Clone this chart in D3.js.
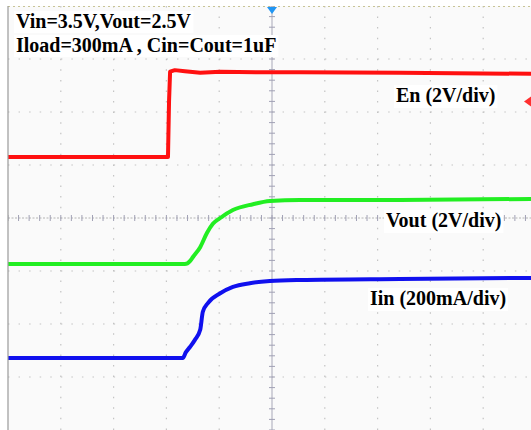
<!DOCTYPE html>
<html>
<head>
<meta charset="utf-8">
<script src="https://cdn.jsdelivr.net/npm/d3@7"></script>
<style>
  body { margin: 0; background: #fff; }
  svg { display: block; }
</style>
</head>
<body>
<div id="chart"></div>
<script>
// Scope trace readings, in screen divisions (x: 0..10, y: -4..4 around centre)
const enTime = [0, 3.03, 3.05, 3.07, 3.16, 3.35, 3.64, 4.02, 4.77, 5.53, 7.42, 10];
const enLevel = [1.15, 1.15, 2.2, 2.76, 2.79, 2.77, 2.74, 2.76, 2.75, 2.75, 2.74, 2.72];

const voutTime = [0, 3.35, 3.45, 3.5, 3.64, 3.77, 3.88, 4.02, 4.26, 4.64, 4.96, 5.53, 7.42, 10];
const voutLevel = [-0.87, -0.87, -0.81, -0.74, -0.55, -0.28, -0.11, 0, 0.15, 0.26, 0.32, 0.34, 0.34, 0.36];

const iinTime = [0, 3.31, 3.37, 3.45, 3.54, 3.64, 3.69, 3.79, 4.02, 4.26, 4.58, 4.96, 5.53, 7.42, 10];
const iinLevel = [-2.64, -2.64, -2.53, -2.43, -2.3, -2.11, -1.77, -1.6, -1.42, -1.3, -1.23, -1.19, -1.17, -1.15, -1.13];

const headerLines = ['Vin=3.5V,Vout=2.5V', 'Iload=300mA , Cin=Cout=1uF'];
const channelLabels = ['En (2V/div)', 'Vout (2V/div)', 'Iin (200mA/div)'];

const width = 531, height = 430;
const svg = d3.select('#chart').append('svg')
  .attr('width', width)
  .attr('height', height);

// Screen: 10 x 8 divisions
const x = d3.scaleLinear().domain([0, 10]).range([8, 536]);
const y = d3.scaleLinear().domain([-4, 4]).range([430, 6]);

svg.append('defs').append('clipPath').attr('id', 'screen')
  .append('rect')
  .attr('x', x(0)).attr('y', y(4))
  .attr('width', width - x(0)).attr('height', y(-4) - y(4));

const screen = svg.append('g').attr('clip-path', 'url(#screen)');

screen.append('rect')
  .attr('x', x(0)).attr('y', y(4))
  .attr('width', x(10) - x(0)).attr('height', y(-4) - y(4))
  .attr('fill', '#fafafa');

// Dotted graticule
const minor = (x(1) - x(0)) / 5;
const grid = screen.append('g');
grid.selectAll('line.v')
  .data(d3.range(1, 10).filter((d) => d !== 5))
  .enter().append('line')
  .attr('x1', (d) => x(d)).attr('x2', (d) => x(d))
  .attr('y1', y(4)).attr('y2', y(-4))
  .attr('stroke', '#c4c4c4')
  .attr('stroke-width', 1.2)
  .attr('stroke-dasharray', `1.5,${minor - 1.5}`);

grid.selectAll('line.h')
  .data(d3.range(-3, 4).filter((d) => d !== 0))
  .enter().append('line')
  .attr('x1', x(0)).attr('x2', x(10))
  .attr('y1', (d) => y(d)).attr('y2', (d) => y(d))
  .attr('stroke', '#c4c4c4')
  .attr('stroke-width', 1.2)
  .attr('stroke-dasharray', `1.5,${minor - 1.5}`);

// top edge
grid.append('line')
  .attr('x1', x(0)).attr('x2', x(10))
  .attr('y1', y(4) + 0.5).attr('y2', y(4) + 0.5)
  .attr('stroke', '#c8c496')
  .attr('stroke-width', 1.2)
  .attr('stroke-dasharray', '2,3');

// centre axes with minor ticks
grid.append('line')
  .attr('x1', x(5)).attr('x2', x(5))
  .attr('y1', y(4)).attr('y2', y(-4))
  .attr('stroke', '#a8a8b8').attr('stroke-width', 1);
grid.append('line')
  .attr('x1', x(0)).attr('x2', x(10))
  .attr('y1', y(0)).attr('y2', y(0))
  .attr('stroke', '#b4b4b4').attr('stroke-width', 1)
  .attr('stroke-dasharray', '2,1.5');

const yTicks = d3.range(-4, 4.01, 0.2);
grid.selectAll('line.yt')
  .data(yTicks)
  .enter().append('line')
  .attr('x1', x(5) - 3).attr('x2', x(5) + 3)
  .attr('y1', (d) => y(d)).attr('y2', (d) => y(d))
  .attr('stroke', '#a0a0b4').attr('stroke-width', 1);

const xTicks = d3.range(0, 10.01, 0.2);
grid.selectAll('line.xt')
  .data(xTicks)
  .enter().append('line')
  .attr('x1', (d) => x(d)).attr('x2', (d) => x(d))
  .attr('y1', y(0) - 3).attr('y2', y(0) + 3)
  .attr('stroke', '#a0a0b4').attr('stroke-width', 1);

// left frame
svg.append('line')
  .attr('x1', x(0)).attr('x2', x(0))
  .attr('y1', y(4)).attr('y2', y(-4))
  .attr('stroke', '#9a9a9a').attr('stroke-width', 1.2);

// Traces
const line = d3.line()
  .x((d) => x(d[0]))
  .y((d) => y(d[1]));

const traces = [
  { t: enTime, v: enLevel, color: '#ff1010', curve: d3.curveLinear },
  { t: voutTime, v: voutLevel, color: '#22ee22', curve: d3.curveMonotoneX },
  { t: iinTime, v: iinLevel, color: '#1010ee', curve: d3.curveMonotoneX },
];

traces.forEach((tr) => {
  screen.append('path')
    .datum(tr.t.map((t, i) => [t, tr.v[i]]))
    .attr('fill', 'none')
    .attr('stroke', tr.color)
    .attr('stroke-width', 4)
    .attr('stroke-linejoin', 'round')
    .attr('d', line.curve(tr.curve));
});

// Markers: trigger position and En channel level
svg.append('path')
  .attr('d', `M${x(5) - 5},${y(4) + 1}L${x(5) + 5},${y(4) + 1}L${x(5)},${y(4) + 8}Z`)
  .attr('fill', '#2196f3');
svg.append('path')
  .attr('d', `M${width},${y(2.2) - 5}L${width - 7},${y(2.2)}L${width},${y(2.2) + 5}Z`)
  .attr('fill', '#ff3030');

// Labels with white backing
function label(txt, lx, ly) {
  const g = svg.append('g');
  const bg = g.append('rect').attr('fill', '#fff');
  const t = g.append('text')
    .attr('x', lx).attr('y', ly)
    .style('font-family', '"Liberation Serif", "Times New Roman", serif')
    .style('font-weight', 'bold')
    .style('font-size', '20px')
    .style('fill', '#000')
    .text(txt);
  const b = t.node().getBBox();
  bg.attr('x', b.x - 2).attr('y', b.y + 1)
    .attr('width', b.width + 4).attr('height', b.height);
}

label(headerLines[0], 16, 28);
label(headerLines[1], 16, 52);
label(channelLabels[0], 396, 102);
label(channelLabels[1], 386, 227);
label(channelLabels[2], 370, 305);
</script>
</body>
</html>
